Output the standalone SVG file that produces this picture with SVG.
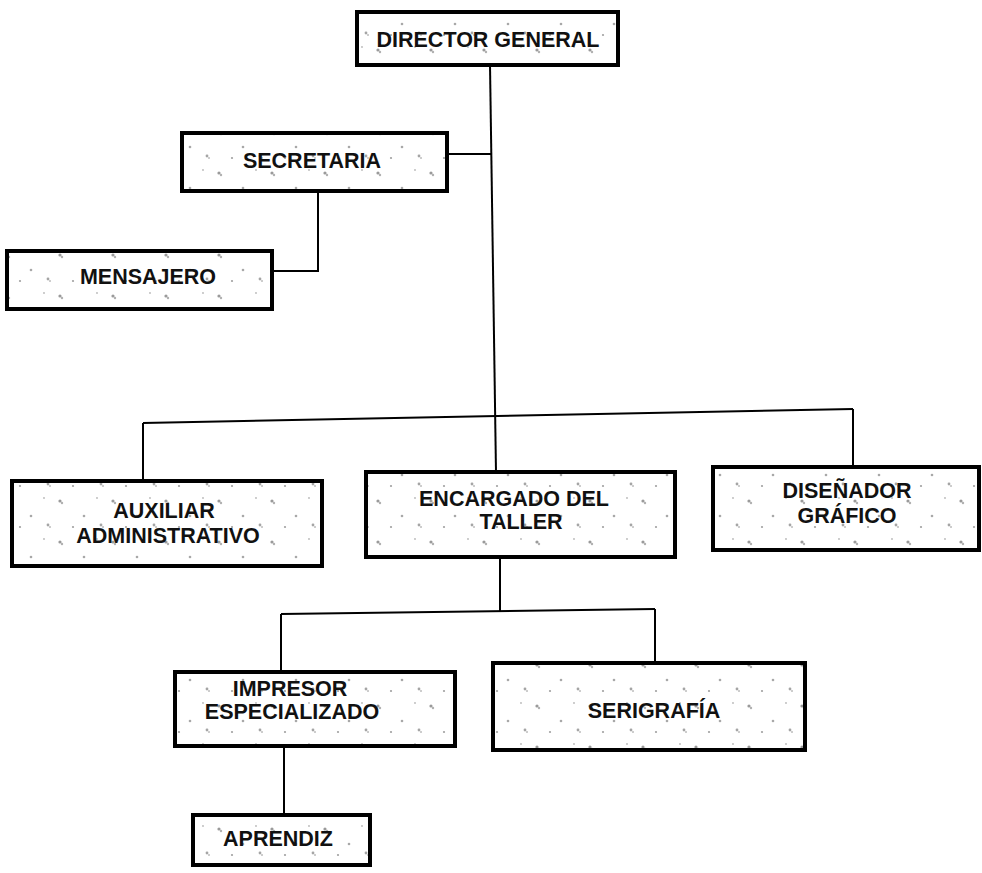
<svg xmlns="http://www.w3.org/2000/svg" width="982" height="873" viewBox="0 0 982 873">
  <defs>
    <pattern id="speck" width="53" height="41" patternUnits="userSpaceOnUse">
      <rect width="53" height="41" fill="#ffffff"/>
      <circle cx="7" cy="9" r="1.6" fill="#9a9a9a"/>
      <circle cx="9" cy="11" r="1.2" fill="#b0b0b0"/>
      <circle cx="31" cy="24" r="1.3" fill="#a8a8a8"/>
      <circle cx="44" cy="6" r="0.9" fill="#b8b8b8"/>
      <circle cx="20" cy="35" r="1.1" fill="#a0a0a0"/>
      <circle cx="48" cy="33" r="1.4" fill="#a5a5a5"/>
      <circle cx="50" cy="35" r="1" fill="#bdbdbd"/>
    </pattern>
    <style>
      .box { fill: url(#speck); stroke: #000; stroke-width: 4; }
      .lbl { font-family: "Liberation Sans", Arial, sans-serif; font-weight: bold; font-size: 21.5px; fill: #111; text-anchor: middle; }
      .con line, .con polyline { stroke: #000; stroke-width: 2; fill: none; }
    </style>
  </defs>
  <rect width="982" height="873" fill="#ffffff"/>

  <g id="connectors" class="con">
    <line x1="490" y1="65" x2="496" y2="472"/>
    <line x1="447" y1="154" x2="491" y2="154"/>
    <polyline points="318,191 318,271 272,271"/>
    <line x1="143" y1="423" x2="853" y2="409"/>
    <line x1="143" y1="423" x2="143" y2="481"/>
    <line x1="853" y1="409" x2="853" y2="467"/>
    <line x1="500" y1="557" x2="500" y2="612"/>
    <line x1="281" y1="614" x2="655" y2="609"/>
    <line x1="281" y1="614" x2="281" y2="672"/>
    <line x1="655" y1="609" x2="655" y2="663"/>
    <line x1="284" y1="746" x2="284" y2="815"/>
  </g>

  <g id="director">
    <rect class="box" x="357" y="12" width="261" height="53"/>
    <text class="lbl" x="488" y="47">DIRECTOR GENERAL</text>
  </g>
  <g id="secretaria">
    <rect class="box" x="182" y="133" width="265" height="58"/>
    <text class="lbl" x="312" y="168">SECRETARIA</text>
  </g>
  <g id="mensajero">
    <rect class="box" x="7" y="251" width="265" height="58"/>
    <text class="lbl" x="148" y="284">MENSAJERO</text>
  </g>
  <g id="auxiliar">
    <rect class="box" x="12" y="481" width="310" height="85"/>
    <text class="lbl" x="164" y="518">AUXILIAR</text>
    <text class="lbl" x="168" y="543">ADMINISTRATIVO</text>
  </g>
  <g id="encargado">
    <rect class="box" x="366" y="472" width="309" height="85"/>
    <text class="lbl" x="514" y="506">ENCARGADO DEL</text>
    <text class="lbl" x="521" y="529">TALLER</text>
  </g>
  <g id="disenador">
    <rect class="box" x="713" y="467" width="266" height="83"/>
    <text class="lbl" x="847" y="498">DISEÑADOR</text>
    <text class="lbl" x="847" y="523">GRÁFICO</text>
  </g>
  <g id="impresor">
    <rect class="box" x="175" y="672" width="280" height="74"/>
    <text class="lbl" x="290" y="696">IMPRESOR</text>
    <text class="lbl" x="292" y="719">ESPECIALIZADO</text>
  </g>
  <g id="serigrafia">
    <rect class="box" x="493" y="663" width="312" height="87"/>
    <text class="lbl" x="654" y="718">SERIGRAFÍA</text>
  </g>
  <g id="aprendiz">
    <rect class="box" x="193" y="815" width="177" height="50"/>
    <text class="lbl" x="278" y="846">APRENDIZ</text>
  </g>
</svg>
